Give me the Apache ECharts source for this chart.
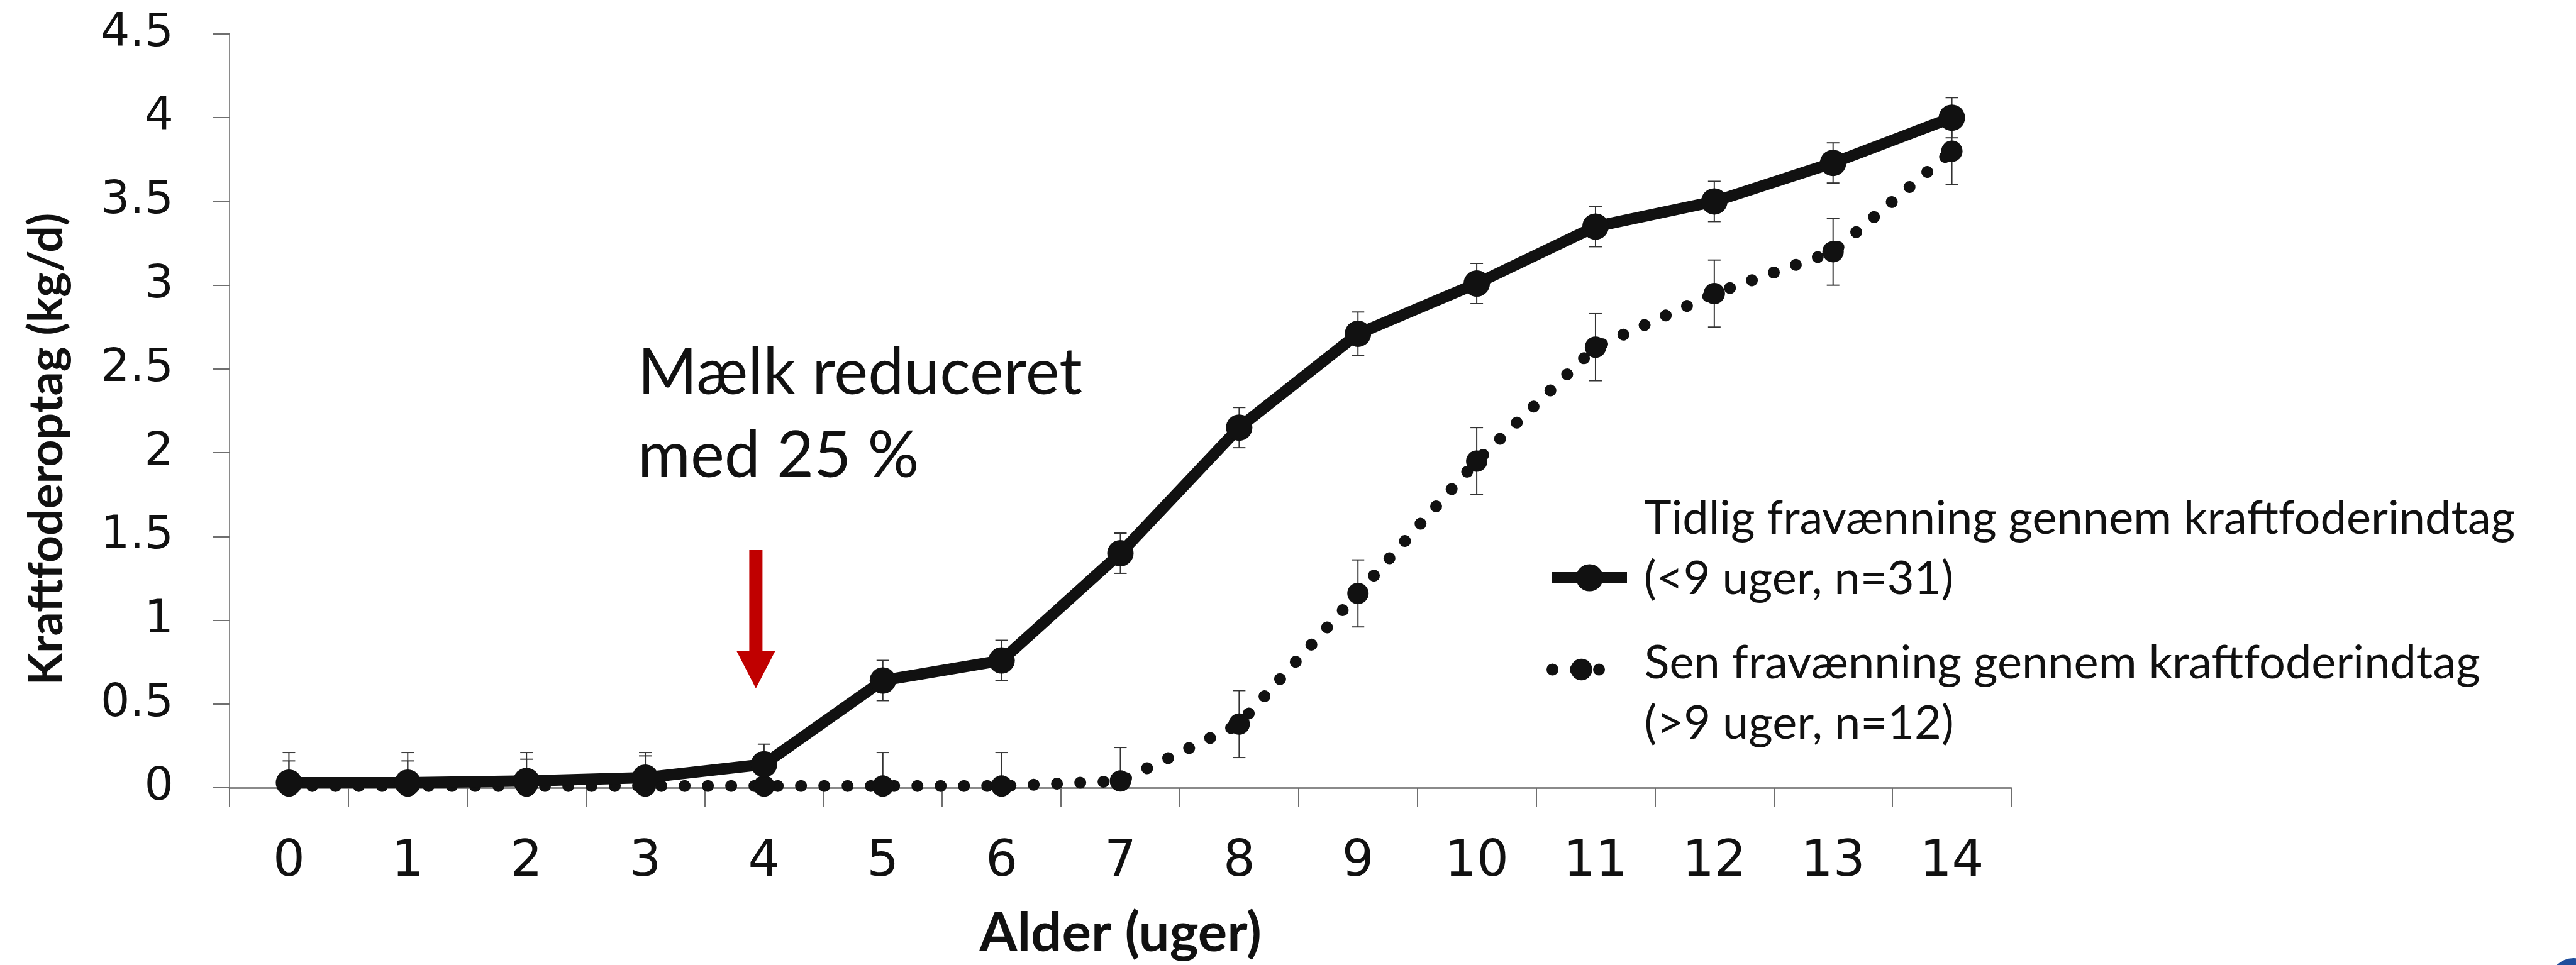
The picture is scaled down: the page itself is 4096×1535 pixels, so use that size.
<!DOCTYPE html>
<html>
<head>
<meta charset="utf-8">
<script src="https://cdn.jsdelivr.net/npm/echarts@6/dist/echarts.min.js"></script>
<style>
html,body{margin:0;padding:0;background:#ffffff;}
#chart{width:4096px;height:1535px;}
</style>
</head>
<body>
<div id="chart"></div>
<script>
// ---- data ----
const weeks = ['0','1','2','3','4','5','6','7','8','9','10','11','12','13','14'];
const earlyMean = [0.03, 0.03, 0.04, 0.06, 0.14, 0.64, 0.76, 1.40, 2.15, 2.71, 3.01, 3.35, 3.50, 3.73, 4.00];
const earlyErr  = [0.13, 0.13, 0.13, 0.13, 0.12, 0.12, 0.12, 0.12, 0.12, 0.13, 0.12, 0.12, 0.12, 0.12, 0.12];
const lateMean  = [0.01, 0.01, 0.01, 0.01, 0.01, 0.01, 0.01, 0.04, 0.38, 1.16, 1.95, 2.63, 2.95, 3.20, 3.80];
const lateErr   = [0.20, 0.20, 0.20, 0.20, 0.20, 0.20, 0.20, 0.20, 0.20, 0.20, 0.20, 0.20, 0.20, 0.20, 0.20];
const yTicks = ['0','0.5','1','1.5','2','2.5','3','3.5','4','4.5'];
const earlyLines = ['Tidlig fravænning gennem kraftfoderindtag', '(<9 uger, n=31)'];
const lateLines  = ['Sen fravænning gennem kraftfoderindtag', '(>9 uger, n=12)'];
const earlyName = earlyLines.join(' ');
const lateName = lateLines.join(' ');
const annotationLines = ['Mælk reduceret', 'med 25 %'];
const arrowWeek = 4;
const yTitle = 'Kraftfoderoptag (kg/d)';
const xTitle = 'Alder (uger)';

// ---- styles ----
const INK = '#111111';
const AXIS = '#8a8a8a';
const TICKFONT = 'DejaVu Sans';
const TEXTFONT = 'Lato';
const DOTTED = [0.01, 37];

function errData(mean, err) {
  return mean.map((m, i) => [i, m - err[i], m + err[i]]);
}
function errRender(params, api) {
  const x = api.value(0);
  const lo = api.coord([x, api.value(1)]);
  const hi = api.coord([x, api.value(2)]);
  const hw = 10;
  const style = { stroke: '#333333', lineWidth: 2, fill: null };
  return {
    type: 'group',
    children: [
      { type: 'line', shape: { x1: lo[0], y1: lo[1], x2: hi[0], y2: hi[1] }, style: style },
      { type: 'line', shape: { x1: hi[0] - hw, y1: hi[1], x2: hi[0] + hw, y2: hi[1] }, style: style },
      { type: 'line', shape: { x1: lo[0] - hw, y1: lo[1], x2: lo[0] + hw, y2: lo[1] }, style: style }
    ]
  };
}

const chart = echarts.init(document.getElementById('chart'), null, { renderer: 'canvas' });

const option = {
  backgroundColor: '#ffffff',
  animation: false,
  grid: { left: 365, top: 54, width: 2833, height: 1199, containLabel: false, outerBoundsMode: 'none' },
  xAxis: {
    type: 'category',
    data: weeks,
    boundaryGap: true,
    name: xTitle,
    nameLocation: 'middle',
    nameGap: 188,
    nameTextStyle: { fontFamily: TEXTFONT, fontWeight: 'bold', fontSize: 87, color: INK },
    axisLine: { show: true, lineStyle: { color: AXIS, width: 3 } },
    axisTick: { show: true, inside: false, length: 30, alignWithLabel: false, lineStyle: { color: '#6f6f6f', width: 2 } },
    axisLabel: { fontFamily: TICKFONT, fontSize: 80, color: INK, margin: 79 },
    splitLine: { show: false }
  },
  yAxis: {
    type: 'value',
    min: 0,
    max: 4.5,
    interval: 0.5,
    name: yTitle,
    nameLocation: 'middle',
    nameRotate: 90,
    nameGap: 253,
    nameTextStyle: { fontFamily: TEXTFONT, fontWeight: 'bold', fontSize: 75, color: INK, padding: [0, 122, 0, 0] },
    axisLine: { show: true, lineStyle: { color: AXIS, width: 2 } },
    axisTick: { show: true, inside: false, length: 27, lineStyle: { color: '#6f6f6f', width: 2 } },
    axisLabel: {
      fontFamily: TICKFONT, fontSize: 73, color: INK, margin: 89,
      formatter: function (v) { return yTicks[Math.round(v / 0.5)]; }
    },
    splitLine: { show: false }
  },
  legend: [
    {
      data: [earlyName],
      left: 2459, top: 788, padding: 0, orient: 'vertical',
      itemWidth: 119, itemHeight: 54, selectedMode: false,
      lineStyle: { width: 18, color: INK },
      formatter: function () { return '{t|' + earlyLines[0] + '}\n{t|' + earlyLines[1] + '}\n{e| }'; },
      textStyle: {
        rich: {
          t: { fontFamily: TEXTFONT, fontSize: 74, lineHeight: 96, color: INK, padding: [0, 0, 0, 22] },
          e: { fontSize: 10, lineHeight: 92 }
        }
      }
    },
    {
      data: [lateName],
      left: 2459, top: 964, padding: 0, orient: 'vertical',
      itemWidth: 92, itemHeight: 43, selectedMode: false,
      lineStyle: { width: 19, color: INK, type: DOTTED, cap: 'round' },
      formatter: function () { return '{e| }\n{t|' + lateLines[0] + '}\n{t|' + lateLines[1] + '}'; },
      textStyle: {
        rich: {
          t: { fontFamily: TEXTFONT, fontSize: 74, lineHeight: 96, color: INK, padding: [0, 0, 0, 49] },
          e: { fontSize: 10, lineHeight: 76 }
        }
      }
    }
  ],
  series: [
    {
      type: 'custom', name: 'errLate', data: errData(lateMean, lateErr),
      renderItem: errRender, clip: true, encode: { x: 0, y: [1, 2] }, z: 1, silent: true
    },
    {
      type: 'custom', name: 'errEarly', data: errData(earlyMean, earlyErr),
      renderItem: errRender, clip: true, encode: { x: 0, y: [1, 2] }, z: 1, silent: true
    },
    {
      type: 'line', name: lateName, data: lateMean,
      symbol: 'circle', symbolSize: 34, showSymbol: true,
      itemStyle: { color: INK },
      lineStyle: { color: INK, width: 19, type: DOTTED, cap: 'round' },
      z: 3
    },
    {
      type: 'line', name: earlyName, data: earlyMean,
      symbol: 'circle', symbolSize: 42, showSymbol: true,
      itemStyle: { color: INK },
      lineStyle: { color: INK, width: 18, join: 'round' },
      z: 4
    }
  ]
};
chart.setOption(option);

// annotation + arrow placed via axis conversion
const ax = chart.convertToPixel({ xAxisIndex: 0, yAxisIndex: 0 }, [arrowWeek, 0]);
const arrowX = ax[0] - 13;
chart.setOption({
  graphic: [
    { type: 'text', left: 1014, top: 594 - 51, style: { text: annotationLines[0], fontFamily: TEXTFONT, fontSize: 102, fill: INK } },
    { type: 'text', left: 1014, top: 726 - 51, style: { text: annotationLines[1], fontFamily: TEXTFONT, fontSize: 102, fill: INK } },
    {
      type: 'polygon',
      shape: { points: [
        [arrowX - 10.5, 875], [arrowX + 10.5, 875], [arrowX + 10.5, 1036], [arrowX + 30.5, 1036],
        [arrowX, 1095], [arrowX - 30.5, 1036], [arrowX - 10.5, 1036]
      ] },
      style: { fill: '#C00000' }
    },
    { type: 'circle', shape: { cx: 4092, cy: 1562, r: 38 }, style: { fill: '#1F4E9C' } }
  ]
});
</script>
</body>
</html>
